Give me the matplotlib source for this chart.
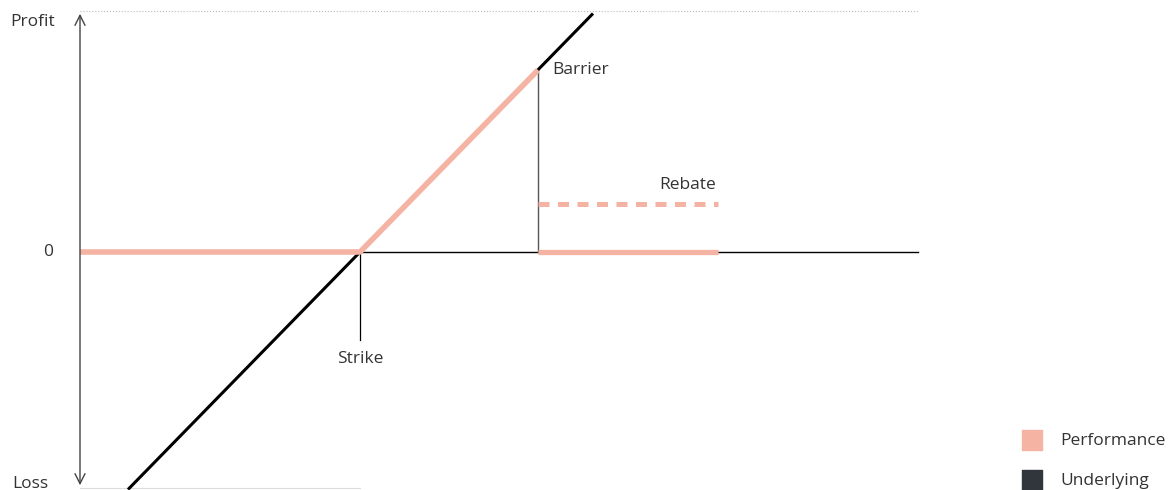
import matplotlib
matplotlib.use('Agg')
import matplotlib.pyplot as plt

# schematic payoff, units: price from axis, profit from zero line
strike = 280
barrier = 458
barrier_level = 182
rebate = 48
rebate_end = 638
axis_end = 838
profit_top = 241
loss_bottom = -236

underlying_x = [48, 513]
underlying_y = [-237.5, 238.5]

perf_x = [0, strike, barrier]
perf_y = [0, 0, barrier_level]

pink = '#f5b3a4'
dark = '#30363b'
txt = '#333333'

plt.rcParams['font.family'] = ['Open Sans', 'DejaVu Sans']

fig = plt.figure(figsize=(11.69, 4.90), dpi=100)
ax = fig.add_axes([0, 0, 1, 1])
ax.set_xlim(-80, 1089)
ax.set_ylim(-238, 252)
ax.axis('off')

# frame lines
ax.plot([0, axis_end], [profit_top, profit_top], color='#bbbbbb', lw=0.8, ls=':')
ax.plot([0, strike], [loss_bottom, loss_bottom], color='#dddddd', lw=0.8)
ax.plot([strike, axis_end], [0, 0], color='black', lw=1)
ax.annotate('', xy=(0, profit_top), xytext=(0, loss_bottom),
            arrowprops=dict(arrowstyle='<->', color='#444444', lw=1, mutation_scale=18))

# guides
ax.plot([strike, strike], [0, -88], color='black', lw=0.9)
ax.plot([barrier, barrier], [0, barrier_level], color='#555555', lw=1)

# underlying
ax.plot(underlying_x, underlying_y, color='black', lw=2.2, solid_capstyle='butt')

# performance
ax.plot(perf_x, perf_y, color=pink, lw=4, solid_capstyle='butt', solid_joinstyle='round')
ax.plot([barrier, rebate_end], [0, 0], color=pink, lw=3.8, solid_capstyle='butt')
ax.plot([barrier, rebate_end], [rebate, rebate], color=pink, lw=3.6, ls=(0, (2.2, 1.7)))

# labels
fs = 12.5
ax.text(-70, 230, 'Profit', fontsize=fs, color=txt, ha='left', va='center')
ax.text(-32, 0, '0', fontsize=fs, color=txt, ha='center', va='center')
ax.text(-68, loss_bottom + 4, 'Loss', fontsize=fs, color=txt, ha='left', va='center')
ax.text(barrier + 14, barrier_level, 'Barrier', fontsize=fs, color=txt, ha='left', va='center')
ax.text(rebate_end - 2, rebate + 19, 'Rebate', fontsize=fs, color=txt, ha='right', va='center')
ax.text(strike, -107, 'Strike', fontsize=fs, color=txt, ha='center', va='center')

# legend
ax.scatter([952], [-188], marker='s', s=210, color=pink)
ax.scatter([952], [-228], marker='s', s=210, color=dark)
ax.text(980, -189, 'Performance', fontsize=fs, color=txt, va='center')
ax.text(980, -229, 'Underlying', fontsize=fs, color=txt, va='center')

fig.savefig('out.png', dpi=100)
